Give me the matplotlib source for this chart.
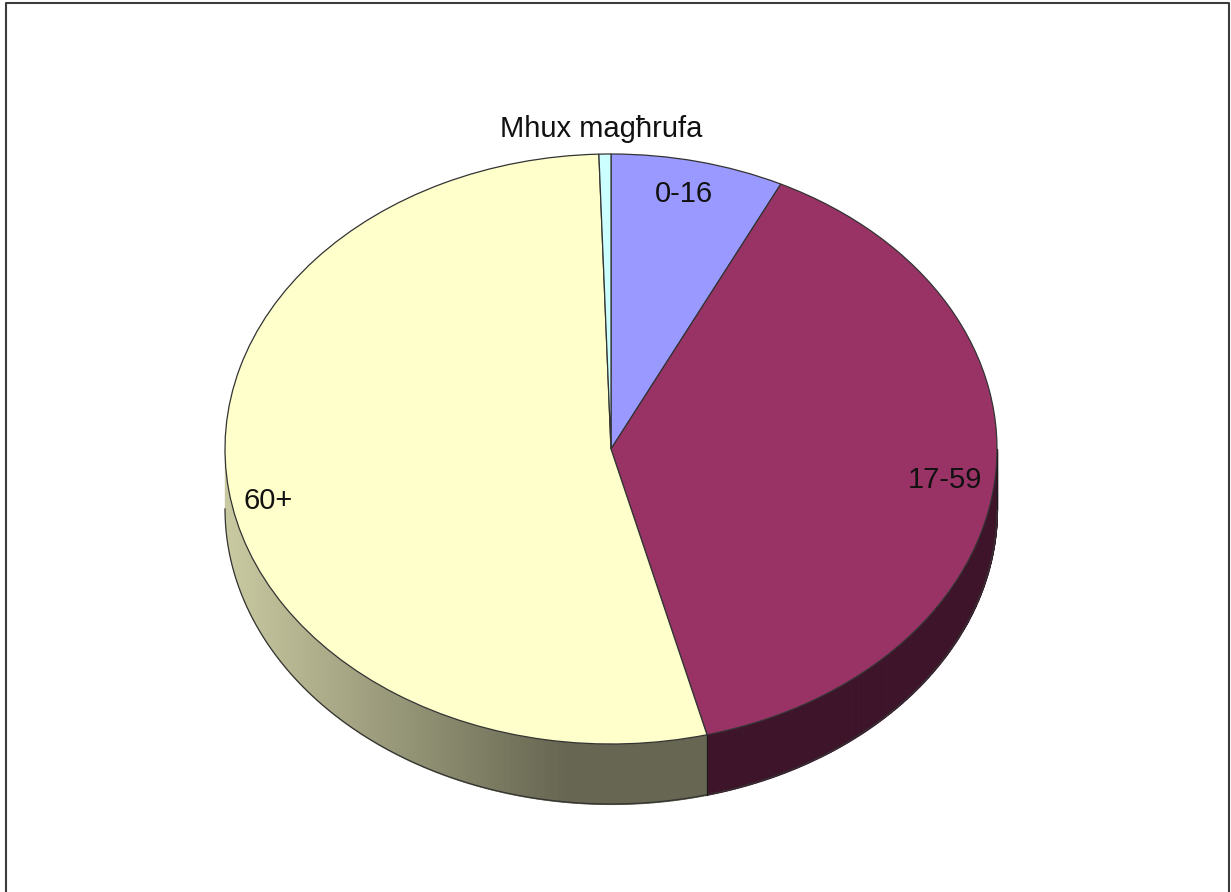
import numpy as np
import matplotlib
matplotlib.use("Agg")
import matplotlib.pyplot as plt
from matplotlib.lines import Line2D

# Valori
categorie = ["0-16", "17-59", "60+", "Mhux magħrufa"]
valori = [7.25, 38.75, 53.5, 0.5]
colori = ["#9999FF", "#993366", "#FFFFCC", "#CCFFFF"]

W, H = 1231, 892
plt.rcParams["font.family"] = ["Liberation Sans", "DejaVu Sans"]

fig = plt.figure(figsize=(W / 100, H / 100), dpi=100, facecolor="white")

# ellipse top: centro (611, 449), rx 386, ry 295 px
cx, cy, rx, ry = 611, 449, 386, 295
ax = fig.add_axes([(cx - rx) / W, 1 - (cy + ry) / H, 2 * rx / W, 2 * ry / H])
prof = 60 / ry  # spessore del disco


def ombra(col, x):
    rgb = np.array(matplotlib.colors.to_rgb(col))
    return tuple(rgb * np.interp(x, [-1, -0.12], [0.79, 0.40]))


# parete laterale, a strisce per il gradiente
bordi = np.cumsum([0] + valori) / sum(valori) * 360
for i, col in enumerate(colori):
    a0, a1 = max(bordi[i], 90), min(bordi[i + 1], 270)
    if a1 <= a0:
        continue
    n = int((a1 - a0) * 3) + 2
    t = np.radians(np.linspace(a0, a1, n))
    xs, ys = np.sin(t), np.cos(t)
    # senza antialias: niente righine tra una striscia e l'altra
    for j in range(n - 1):
        c = ombra(col, xs[j])
        ax.fill_between(xs[j:j + 2], ys[j:j + 2], ys[j:j + 2] - prof,
                        color=c, lw=0.8, antialiased=False, clip_on=False, zorder=1)
    ax.plot(xs, ys - prof, color="#333333", lw=0.9, clip_on=False, zorder=2)
    ax.plot([xs[0], xs[0]], [ys[0], ys[0] - prof], color="#1a1a1a", lw=0.9,
            clip_on=False, zorder=2)

wedges, _ = ax.pie(valori, colors=colori, startangle=90, counterclock=False,
                   wedgeprops={"edgecolor": "#333333", "linewidth": 0.9, "zorder": 3})
for w in wedges:
    w.set_clip_on(False)
ax.set_aspect("auto")
ax.set_xlim(-1, 1)
ax.set_ylim(-1, 1)
ax.axis("off")

# etichette
pos_etichette = [(684, 194), (945, 480), (268, 501), (601, 129)]
for nome, (px, py) in zip(categorie, pos_etichette):
    fig.text(px / W, 1 - py / H, nome, ha="center", va="center",
             fontsize=21, color="#111111", zorder=10)

# cornice (il lato basso esce dall'immagine)
xb = [6 / W, 6 / W, 1229 / W, 1229 / W]
yb = [0, 1 - 3 / H, 1 - 3 / H, 0]
fig.add_artist(Line2D(xb, yb, color="#3c3c3c", lw=1.5, transform=fig.transFigure))

fig.savefig("out.png", dpi=100)
